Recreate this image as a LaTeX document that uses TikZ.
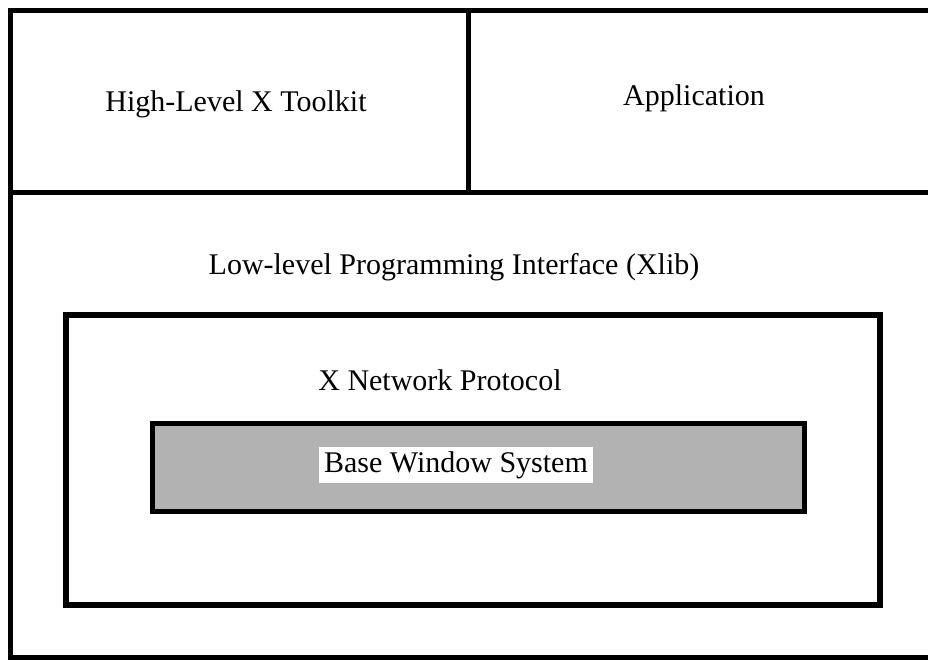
\documentclass[tikz,border=0pt]{standalone}
\usepackage{fontspec}
\setmainfont{Liberation Serif}
\begin{document}
\begin{tikzpicture}[x=1pt,y=-1pt,
  frame/.style={line width=5pt,line cap=rect},
  lbl/.style={font=\fontsize{30}{33}\selectfont,inner sep=0pt,anchor=center},
  shade/.style={fill=black!30}]
\useasboundingbox (0,0) rectangle (928,659);
% outer frame (open on the right)
\draw[frame] (928,10) -- (10,10) -- (10,657) -- (928,657);
\draw[frame] (10,192) -- (928,192);
\draw[frame] (468,10) -- (468,192);
% X network protocol box
\draw[line width=6pt] (66,315) rectangle (880,605);
% base window system box
\draw[line width=5pt,shade] (152,423) rectangle (804,511);
% labels
\node[lbl] (toolkit) at (236,104) {High-Level X Toolkit};
\node[lbl] (app) at (694,98) {Application};
\node[lbl] (xlib) at (454,267) {Low-level Programming Interface (Xlib)};
\node[lbl] (proto) at (440,380) {X Network Protocol};
\node[lbl,fill=white,inner xsep=5pt,inner ysep=4pt] (base) at (456,465) {Base Window System};
\end{tikzpicture}
\end{document}
